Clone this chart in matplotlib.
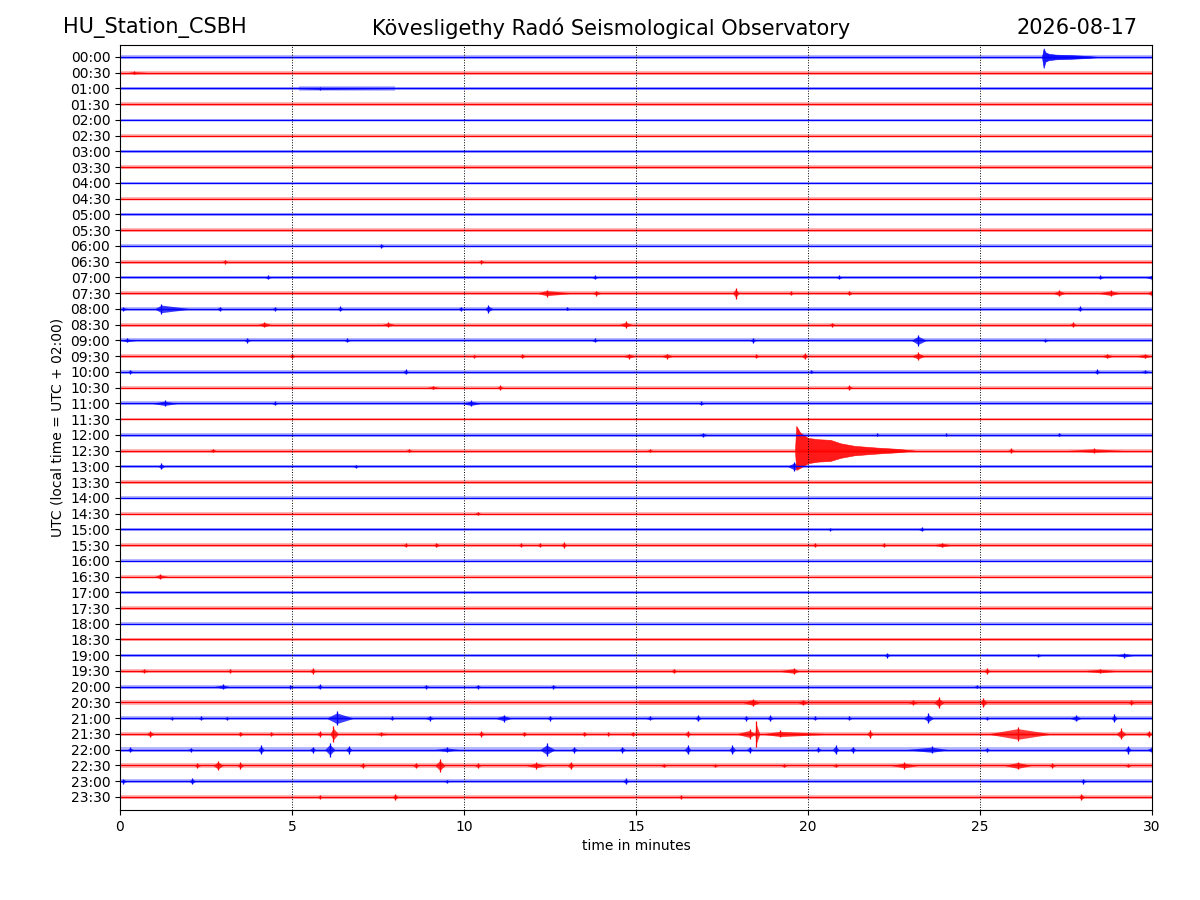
import matplotlib
matplotlib.use("Agg")
import matplotlib.pyplot as plt

# ---------------- data ----------------
station = "HU_Station_CSBH"
observatory = "Kövesligethy Radó Seismological Observatory"
date_label = "2026-08-17"

row_labels = [f"{h:02d}:{m:02d}" for h in range(24) for m in (0, 30)]
row_colors = ["blue", "red"] * 24

# background noise half-width of each trace (in row units)
noise_level = [0.10, 0.12, 0.12, 0.11, 0.09, 0.11, 0.10, 0.11, 0.09, 0.11,
               0.10, 0.11, 0.10, 0.12, 0.11, 0.13, 0.12, 0.12, 0.12, 0.13,
               0.11, 0.12, 0.12, 0.09, 0.11, 0.13, 0.11, 0.12, 0.10, 0.12,
               0.11, 0.13, 0.10, 0.12, 0.10, 0.12, 0.11, 0.11, 0.11, 0.12,
               0.12, 0.13, 0.13, 0.14, 0.14, 0.14, 0.11, 0.11]

# bursts: (row index, start min, peak min, end min, half amplitude in rows)
events = [
    (1, 0.2, 0.4, 0.9, 0.1),
    (2, 5.1, 5.8, 8.1, 0.08),
    (12, 7.5, 7.6, 7.7, 0.12),
    (13, 2.95, 3.05, 3.15, 0.12), (13, 10.4, 10.5, 10.6, 0.12),
    (14, 4.2, 4.3, 4.4, 0.12), (14, 13.7, 13.8, 13.9, 0.12),
    (14, 20.8, 20.9, 21.0, 0.12), (14, 28.4, 28.5, 28.6, 0.12),
    (14, 29.8, 30.0, 30.0, 0.16),
    (15, 12.1, 12.4, 13.2, 0.22), (15, 13.7, 13.85, 14.0, 0.16),
    (15, 17.8, 17.9, 18.0, 0.35), (15, 19.4, 19.5, 19.6, 0.12),
    (15, 21.1, 21.2, 21.3, 0.15), (15, 27.1, 27.3, 27.5, 0.2),
    (15, 28.4, 28.8, 29.1, 0.2), (15, 29.85, 30.0, 30.0, 0.22),
    (16, 0.0, 0.1, 0.25, 0.12), (16, 1.0, 1.2, 2.1, 0.32),
    (16, 2.8, 2.9, 3.0, 0.15), (16, 4.4, 4.5, 4.6, 0.12),
    (16, 6.3, 6.4, 6.5, 0.16), (16, 9.8, 9.9, 10.0, 0.12),
    (16, 10.6, 10.7, 10.85, 0.25), (16, 12.9, 13.0, 13.1, 0.1),
    (16, 27.8, 27.9, 28.0, 0.16),
    (17, 4.0, 4.2, 4.4, 0.18), (17, 7.6, 7.8, 8.0, 0.15),
    (17, 14.5, 14.7, 14.9, 0.2), (17, 20.6, 20.7, 20.8, 0.12),
    (17, 27.6, 27.7, 27.8, 0.16),
    (18, 0.0, 0.2, 0.5, 0.12), (18, 3.6, 3.7, 3.8, 0.15),
    (18, 6.5, 6.6, 6.7, 0.12), (18, 13.7, 13.8, 13.9, 0.12),
    (18, 18.3, 18.4, 18.5, 0.15), (18, 23.0, 23.2, 23.45, 0.35),
    (18, 26.8, 26.9, 27.0, 0.1),
    (19, 4.9, 5.0, 5.1, 0.15), (19, 10.2, 10.3, 10.4, 0.1),
    (19, 11.6, 11.7, 11.8, 0.15), (19, 14.6, 14.8, 15.0, 0.16),
    (19, 15.7, 15.9, 16.1, 0.16), (19, 18.4, 18.5, 18.6, 0.12),
    (19, 19.8, 19.9, 20.0, 0.2), (19, 23.0, 23.2, 23.4, 0.25),
    (19, 28.5, 28.7, 28.9, 0.15), (19, 29.5, 29.8, 30.0, 0.15),
    (20, 0.2, 0.3, 0.4, 0.12), (20, 8.2, 8.3, 8.4, 0.15),
    (20, 20.0, 20.1, 20.2, 0.1), (20, 28.3, 28.4, 28.5, 0.15),
    (20, 29.6, 29.8, 30.0, 0.1),
    (21, 8.9, 9.1, 9.3, 0.12), (21, 10.95, 11.05, 11.15, 0.15),
    (21, 21.1, 21.2, 21.3, 0.15),
    (22, 0.9, 1.3, 1.7, 0.18), (22, 4.4, 4.5, 4.6, 0.12),
    (22, 9.9, 10.2, 10.5, 0.18), (22, 16.8, 16.9, 17.0, 0.12),
    (24, 16.8, 16.95, 17.1, 0.12), (24, 22.0, 22.0, 22.1, 0.1),
    (24, 24.0, 24.0, 24.1, 0.1), (24, 27.2, 27.3, 27.4, 0.1),
    (25, 2.6, 2.7, 2.8, 0.12), (25, 8.3, 8.4, 8.5, 0.12),
    (25, 15.3, 15.4, 15.5, 0.1), (25, 25.8, 25.9, 26.0, 0.15),
    (25, 27.5, 28.3, 29.2, 0.15),
    (26, 1.1, 1.2, 1.3, 0.2), (26, 6.75, 6.85, 6.95, 0.1),
    (26, 19.4, 19.6, 19.8, 0.3),
    (29, 10.3, 10.4, 10.5, 0.12),
    (30, 20.55, 20.65, 20.75, 0.08), (30, 23.2, 23.3, 23.4, 0.13),
    (31, 8.2, 8.3, 8.4, 0.12), (31, 9.1, 9.2, 9.3, 0.15),
    (31, 11.55, 11.65, 11.75, 0.12), (31, 12.1, 12.2, 12.3, 0.12),
    (31, 12.8, 12.9, 13.0, 0.18), (31, 20.1, 20.2, 20.3, 0.12),
    (31, 22.1, 22.2, 22.3, 0.12), (31, 23.6, 23.9, 24.2, 0.15),
    (33, 1.0, 1.15, 1.4, 0.16),
    (38, 22.2, 22.3, 22.4, 0.15), (38, 26.6, 26.7, 26.8, 0.1),
    (38, 28.9, 29.2, 29.5, 0.15),
    (39, 0.5, 0.7, 0.9, 0.1), (39, 3.1, 3.2, 3.3, 0.1),
    (39, 5.5, 5.6, 5.7, 0.18), (39, 16.0, 16.1, 16.2, 0.15),
    (39, 19.1, 19.6, 19.75, 0.2), (39, 25.1, 25.2, 25.3, 0.2),
    (39, 27.9, 28.5, 29.1, 0.15),
    (40, 2.7, 3.0, 3.2, 0.15), (40, 4.9, 4.95, 5.05, 0.12),
    (40, 5.7, 5.8, 5.9, 0.15), (40, 8.8, 8.9, 9.0, 0.12),
    (40, 10.3, 10.4, 10.5, 0.12), (40, 12.5, 12.6, 12.7, 0.12),
    (40, 24.8, 24.9, 25.0, 0.1),
    (41, 18.1, 18.4, 18.6, 0.25),
    (41, 19.7, 19.85, 20.0, 0.18), (41, 22.9, 23.05, 23.2, 0.15),
    (41, 23.65, 23.8, 23.95, 0.35), (41, 25.0, 25.1, 25.2, 0.3),
    (41, 29.3, 29.4, 29.5, 0.15),
    (42, 1.4, 1.5, 1.6, 0.1), (42, 2.25, 2.35, 2.45, 0.12),
    (42, 3.0, 3.1, 3.2, 0.1), (42, 6.0, 6.3, 6.8, 0.45),
    (42, 7.8, 7.9, 8.0, 0.12), (42, 8.85, 9.0, 9.15, 0.15),
    (42, 10.9, 11.15, 11.4, 0.22), (42, 12.4, 12.5, 12.6, 0.15),
    (42, 15.25, 15.4, 15.55, 0.12), (42, 16.7, 16.8, 16.9, 0.2),
    (42, 18.1, 18.2, 18.3, 0.15), (42, 18.8, 18.9, 19.0, 0.18),
    (42, 20.1, 20.2, 20.3, 0.12), (42, 21.1, 21.2, 21.3, 0.12),
    (42, 23.35, 23.5, 23.65, 0.3), (42, 25.1, 25.2, 25.3, 0.1),
    (42, 27.6, 27.8, 27.95, 0.2), (42, 28.8, 28.9, 29.0, 0.25),
    (43, 0.75, 0.88, 1.0, 0.2), (43, 3.4, 3.5, 3.6, 0.15),
    (43, 4.3, 4.4, 4.5, 0.12), (43, 5.7, 5.8, 5.9, 0.18),
    (43, 6.1, 6.2, 6.35, 0.5), (43, 7.3, 7.6, 7.9, 0.1),
    (43, 10.4, 10.5, 10.6, 0.18), (43, 11.65, 11.75, 11.85, 0.15),
    (43, 13.4, 13.5, 13.6, 0.15), (43, 14.1, 14.2, 14.3, 0.1),
    (43, 14.8, 14.9, 15.0, 0.15), (43, 16.4, 16.5, 16.6, 0.2),
    (43, 17.9, 18.3, 18.5, 0.3), (43, 18.45, 18.5, 18.6, 0.8),
    (43, 18.6, 19.2, 20.8, 0.22), (43, 21.7, 21.8, 21.9, 0.25),
    (43, 25.2, 26.1, 27.1, 0.45), (43, 28.95, 29.1, 29.25, 0.35),
    (43, 29.8, 29.9, 30.0, 0.2),
    (44, 0.2, 0.3, 0.4, 0.15), (44, 1.95, 2.05, 2.15, 0.12),
    (44, 4.0, 4.1, 4.2, 0.3), (44, 5.5, 5.6, 5.7, 0.2),
    (44, 5.95, 6.1, 6.25, 0.45), (44, 6.55, 6.65, 6.75, 0.25),
    (44, 9.1, 9.5, 9.9, 0.15), (44, 12.2, 12.4, 12.65, 0.4),
    (44, 13.1, 13.2, 13.3, 0.2), (44, 14.5, 14.6, 14.7, 0.2),
    (44, 16.4, 16.5, 16.6, 0.3), (44, 17.7, 17.8, 17.9, 0.3),
    (44, 18.2, 18.3, 18.4, 0.2), (44, 20.2, 20.3, 20.4, 0.15),
    (44, 20.7, 20.8, 20.9, 0.3), (44, 21.2, 21.3, 21.4, 0.2),
    (44, 22.8, 23.6, 24.1, 0.22), (44, 25.1, 25.2, 25.3, 0.12),
    (44, 29.2, 29.3, 29.4, 0.25), (44, 29.85, 30.0, 30.0, 0.22),
    (45, 2.15, 2.25, 2.35, 0.15), (45, 2.7, 2.85, 3.0, 0.3),
    (45, 3.4, 3.5, 3.6, 0.2), (45, 6.95, 7.05, 7.15, 0.15),
    (45, 8.5, 8.6, 8.7, 0.18), (45, 9.15, 9.3, 9.45, 0.42),
    (45, 10.3, 10.4, 10.5, 0.15), (45, 11.8, 12.1, 12.4, 0.2),
    (45, 13.0, 13.1, 13.2, 0.25), (45, 15.7, 15.8, 15.9, 0.12),
    (45, 17.2, 17.3, 17.4, 0.1), (45, 19.2, 19.3, 19.4, 0.12),
    (45, 20.7, 20.8, 20.9, 0.12), (45, 22.4, 22.8, 23.2, 0.2),
    (45, 25.7, 26.1, 26.5, 0.25), (45, 27.0, 27.1, 27.2, 0.15),
    (45, 29.2, 29.3, 29.4, 0.12),
    (46, 0.0, 0.1, 0.2, 0.15), (46, 2.0, 2.1, 2.2, 0.2),
    (46, 9.4, 9.5, 9.6, 0.1), (46, 14.6, 14.7, 14.8, 0.18),
    (46, 27.9, 28.0, 28.1, 0.15),
    (47, 5.7, 5.8, 5.9, 0.1), (47, 7.9, 8.0, 8.1, 0.2),
    (47, 16.2, 16.3, 16.4, 0.1), (47, 27.85, 27.95, 28.05, 0.2),
]

# noisier stretch of a trace: (row, start min, end min, half-width)
noisy_spans = [(41, 15.1, 30.0, 0.15), (2, 5.2, 8.0, 0.13)]

# envelopes of the two larger quakes (row, times, upper amp, lower amp)
quake_rows = [0, 25]
quake_times = [
    [26.80, 26.85, 26.90, 27.00, 27.20, 27.60, 28.00, 28.50],
    [19.62, 19.66, 19.77, 20.00, 20.30, 20.65, 20.95, 21.35, 22.00, 22.60, 23.10],
]
quake_up = [
    [0.0, 0.55, 0.30, 0.20, 0.15, 0.12, 0.08, 0.0],
    [0.0, 1.57, 1.15, 0.80, 0.72, 0.68, 0.46, 0.30, 0.19, 0.11, 0.0],
]
quake_down = [
    [0.0, 0.70, 0.30, 0.20, 0.15, 0.12, 0.08, 0.0],
    [0.0, 1.23, 1.10, 0.80, 0.70, 0.66, 0.46, 0.30, 0.19, 0.11, 0.0],
]

x_ticks = [0, 5, 10, 15, 20, 25, 30]

# ---------------- plot ----------------
fig = plt.figure(figsize=(12, 9), dpi=100)
ax = fig.add_axes([0.1, 0.1, 0.86, 0.85])

for i, (lab, col) in enumerate(zip(row_labels, row_colors)):
    n = noise_level[i]
    ax.fill_between([0, 30], [i - n, i - n], [i + n, i + n],
                    color=col, alpha=0.28, linewidth=0)
    ax.plot([0, 30], [i, i], color=col, linewidth=1.0)

for (r, t0, t1, n) in noisy_spans:
    col = row_colors[r]
    ax.fill_between([t0, t1], [r - n, r - n], [r + n, r + n],
                    color=col, alpha=0.25, linewidth=0)

for (r, t0, tp, t1, a) in events:
    col = row_colors[r]
    ax.fill_between([t0, tp, t1], [r, r - a * 0.75, r], [r, r + a * 0.75, r],
                    color=col, alpha=0.75, linewidth=0)
    ax.vlines(tp, r - a, r + a, color=col, linewidth=0.9)

for r, ts, up, dn in zip(quake_rows, quake_times, quake_up, quake_down):
    col = row_colors[r]
    ax.fill_between(ts, [r - u for u in up], [r + d for d in dn],
                    color=col, alpha=0.9, linewidth=0.4, edgecolor=col)

ax.set_xlim(0, 30)
ax.set_ylim(47.83, -0.76)
ax.set_xticks(x_ticks)
ax.set_yticks(range(len(row_labels)))
ax.set_yticklabels(row_labels)
ax.tick_params(labelsize=10)
ax.xaxis.grid(True, linestyle=":", color="black", linewidth=0.7)
ax.set_axisbelow(False)
ax.set_xlabel("time in minutes", fontsize=10)
ax.set_ylabel("UTC (local time = UTC + 02:00)", fontsize=10)

fig.text(0.0525, 0.969, station, fontsize=15, ha="left", va="center")
fig.text(0.509, 0.969, observatory, fontsize=15, ha="center", va="center")
fig.text(0.9475, 0.969, date_label, fontsize=15, ha="right", va="center")

fig.savefig("out.png", dpi=100)
